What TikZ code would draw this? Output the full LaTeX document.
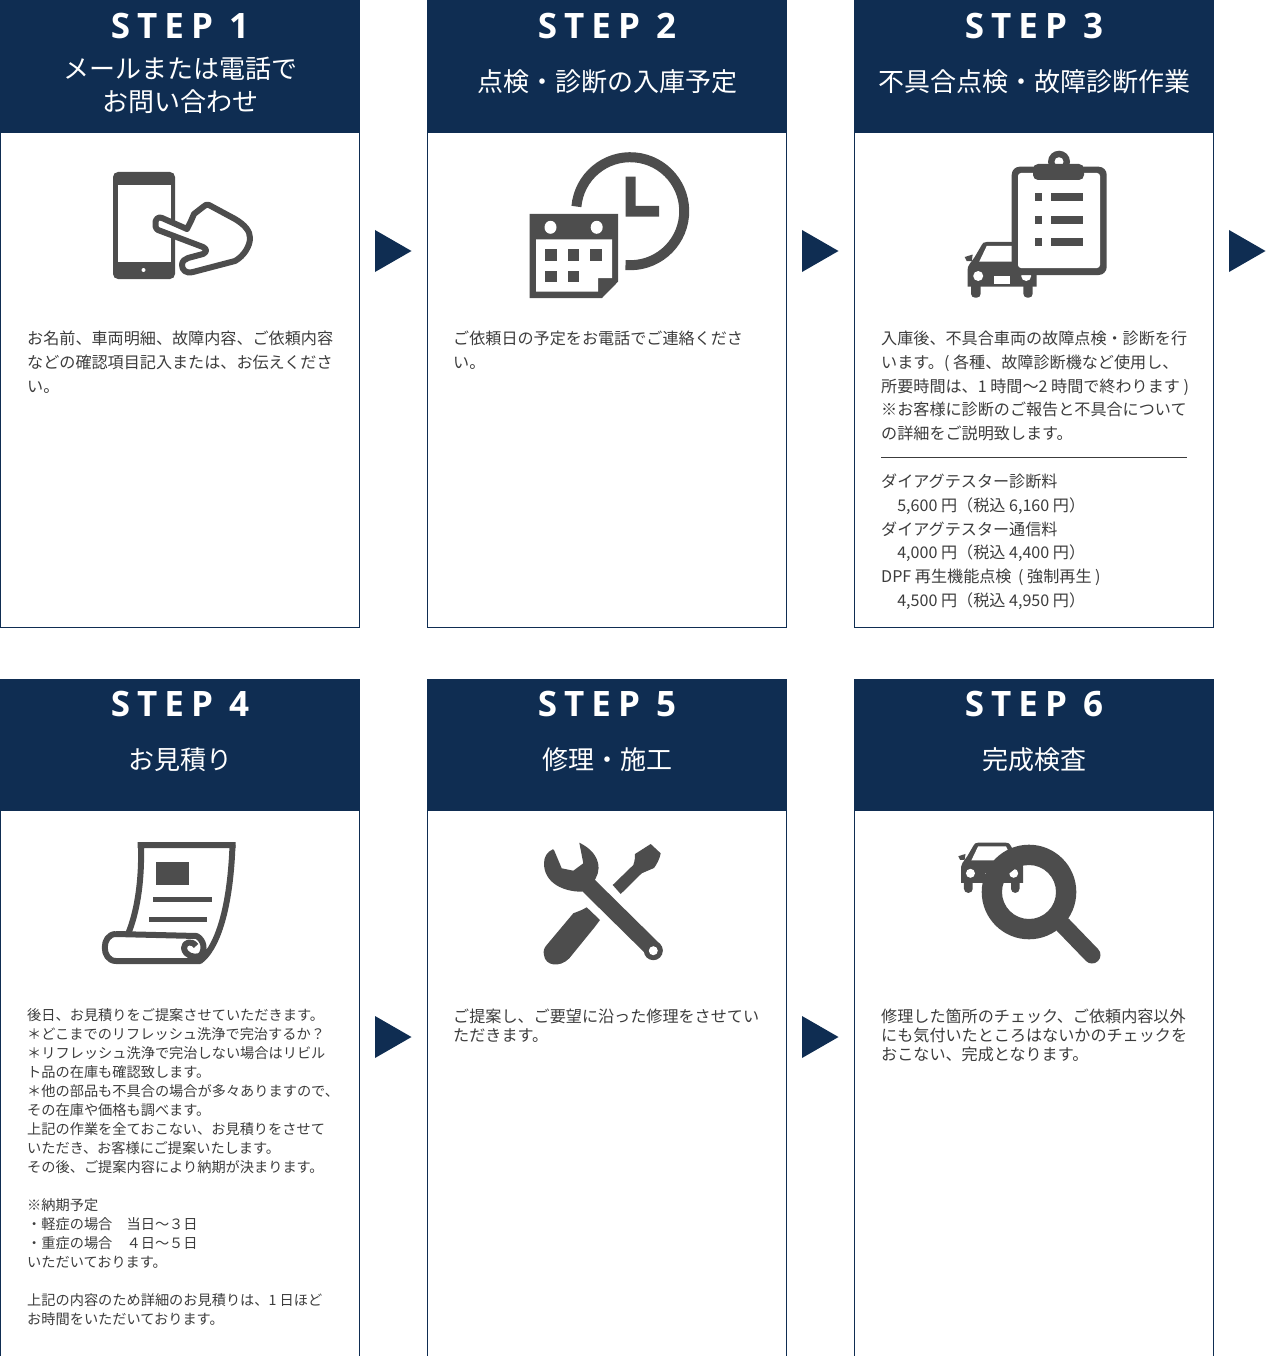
\documentclass[tikz,border=0pt]{standalone}
\usepackage{fontspec}
\setmainfont{Noto Sans CJK JP}
\newfontfamily\stepfont[LetterSpace=20]{Open Sans}
\definecolor{headnavy}{HTML}{0F2D52}
\definecolor{icongray}{HTML}{4D4D4D}
\definecolor{bodygray}{HTML}{3C3C3C}
\tikzset{
  panelline/.style={draw=headnavy,line width=1pt},
  steplabel/.style={text=white,font=\stepfont\bfseries\fontsize{35}{35}\selectfont},
  titlelabel/.style={text=white,align=center,font=\fontsize{26}{33}\selectfont},
  bodytext/.style={anchor=north west,inner sep=0pt,align=left,text=bodygray,font=\fontsize{16.1}{23.7}\selectfont},
  bodyfine/.style={bodytext,font=\fontsize{14.2}{19}\selectfont},
  bodytight/.style={bodytext,font=\fontsize{16.1}{19}\selectfont},
  iconfill/.style={fill=icongray},
  iconline/.style={draw=icongray,line width=6pt},
  pics/carbody/.style={code={
    \fill[iconfill] (-3,15) -- (5,12.5) -- (4,19) -- (-1,19) -- cycle;
    \fill[iconfill] (0,44.7) -- (0,27) .. controls (0,24) and (2,22) .. (7,15) -- (14,3)
      .. controls (15,1) and (16,0) .. (19,0) -- (50,0) .. controls (53,0) and (54,1) .. (55,3)
      -- (62,15) .. controls (67,22) and (69,24) .. (69,27) -- (69,44.7) -- cycle;
    \fill[iconfill,rounded corners=4pt] (3.3,40) rectangle (13,55.7);
    \fill[iconfill,rounded corners=4pt] (55.6,40) rectangle (65,55.7);
    \fill[white] (11.5,19.7) -- (19,4) -- (50,4) -- (57.5,19.7) -- cycle;
    \fill[white] (10.5,34) circle (5);
    \fill[white] (58.5,34) circle (5);
    \fill[white] (26.5,34) rectangle (42,41.5);
  }}
}
\begin{document}
\begin{tikzpicture}[x=1pt,y=1pt,yscale=-1]
\useasboundingbox (0,0) rectangle (1280,1356);
\foreach \px in {0,427,854}{
  \fill[headnavy] (\px,0) rectangle (\px+360,133);
  \draw[panelline] (\px+0.5,0.5) rectangle (\px+359.5,627.5);
  \fill[headnavy] (\px,679) rectangle (\px+360,811);
  \draw[panelline] (\px+0.5,679.5) -- (\px+0.5,1356) (\px+359.5,679.5) -- (\px+359.5,1356);
}
\foreach \px/\py/\num/\ttl in {0/0/1/{メールまたは電話で\\お問い合わせ},427/0/2/{点検・診断の入庫予定},854/0/3/{不具合点検・故障診断作業},0/678/4/{お見積り},427/678/5/{修理・施工},854/678/6/{完成検査}}{
  \node[steplabel] (step\num) at (\px+180,\py+26) {STEP \num};
  \ifnum\num=1
    \node[titlelabel] (title\num) at (\px+180,\py+85) {\ttl};
  \else
    \node[titlelabel] (title\num) at (\px+180,\py+82) {\ttl};
  \fi
}
\foreach \ax/\ay in {375/251,802/251,1229/251,375/1037,802/1037}
  \fill[headnavy] (\ax,\ay-21) -- (\ax+36.5,\ay) -- (\ax,\ay+21) -- cycle;
\node[bodytext] (body1) at (27,331) {お名前、車両明細、故障内容、ご依頼内容\\などの確認項目記入または、お伝えくださ\\い。};
\node[bodytext] (body2) at (453,331) {ご依頼日の予定をお電話でご連絡くださ\\い。};
\node[bodytext] (body3) at (881,331) {入庫後、不具合車両の故障点検・診断を行\\います。( 各種、故障診断機など使用し、\\所要時間は、1 時間～2 時間で終わります )\\※お客様に診断のご報告と不具合について\\の詳細をご説明致します。};
\node[bodytext] (fee3) at (881,474) {ダイアグテスター診断料\\　5,600 円（税込 6,160 円）\\ダイアグテスター通信料\\　4,000 円（税込 4,400 円）\\DPF 再生機能点検\hspace{3pt} ( 強制再生 )\\　4,500 円（税込 4,950 円）};
\coordinate (ruleleft) at (881,457.5);
\coordinate (ruleright) at (1187,457.5);
\draw[bodygray,line width=0.8pt] (ruleleft) -- (ruleright);
\node[bodyfine] (body4) at (27,1008) {後日、お見積りをご提案させていただきます。\\＊どこまでのリフレッシュ洗浄で完治するか？\\＊リフレッシュ洗浄で完治しない場合はリビル\\ト品の在庫も確認致します。\\＊他の部品も不具合の場合が多々ありますので、\\その在庫や価格も調べます。\\上記の作業を全ておこない、お見積りをさせて\\いただき、お客様にご提案いたします。\\その後、ご提案内容により納期が決まります。\\ \\※納期予定\\・軽症の場合　当日～３日\\・重症の場合　４日～５日\\いただいております。\\ \\上記の内容のため詳細のお見積りは、1 日ほど\\お時間をいただいております。};
\node[bodytight] (body5) at (453,1009) {ご提案し、ご要望に沿った修理をさせてい\\ただきます。};
\node[bodytight] (body6) at (881,1009) {修理した箇所のチェック、ご依頼内容以外\\にも気付いたところはないかのチェックを\\おこない、完成となります。};
\fill[iconfill,rounded corners=5pt] (113,172) rectangle (175,279);
\fill[white] (118,185) rectangle (170.5,262);
\fill[white] (143.5,270) circle (2);
\filldraw[iconline,fill=white,line join=round] (162,218) -- (187,229) -- (191,221) -- (194,214) -- (203,207)
  .. controls (205,205) and (207,204) .. (209,205) -- (235,219) .. controls (245,225) and (250,231) .. (250,238)
  .. controls (250,246) and (244,256) .. (235,261) -- (193,272) .. controls (186,274) and (182,270) .. (182,265)
  .. controls (182,261) and (185,259) .. (188,258) -- (203,254) .. controls (207,252) and (207,249) .. (203,247)
  -- (158,230) .. controls (153,227) and (155,215) .. (162,218) -- cycle;
\draw[icongray,line width=10pt] (625.5,265) arc[start angle=95,end angle=-175,radius=54];
\fill[iconfill] (625.6,176.7) -- (635.5,176.7) -- (635.5,206) -- (659,206) -- (659,216.7) -- (625.6,216.7) -- cycle;
\fill[iconfill] (529.5,214) -- (618,214) -- (618,281.7) -- (602,298) -- (529.5,298) -- cycle;
\fill[white] (536,239.3) -- (612,239.3) -- (612,278) -- (598,278) -- (598,291.7) -- (536,291.7) -- cycle;
\foreach \hx in {550.5,596.7}
  \fill[white] (\hx,227.3) ellipse (6 and 6.5);
\foreach \qx/\qy in {545/249.3,567.5/249.3,590/249.3,545/270.7,567.5/270.7}
  \fill[iconfill] (\qx,\qy) rectangle (\qx+11.5,\qy+11.3);
\pic[yscale=-1] at (967.7,242) {carbody};
\fill[iconfill] (1059,161.7) circle (11);
\fill[white] (1059,161.7) circle (4.5);
\fill[iconfill,rounded corners=8pt] (1011.7,166.7) rectangle (1106.7,275);
\fill[white,rounded corners=3pt] (1018,173) rectangle (1100,268);
\fill[iconfill,rounded corners=5pt] (1033,164) rectangle (1084,180);
\foreach \ly in {193.3,216,238.3}{
  \fill[iconfill] (1035,\ly) rectangle (1042.3,\ly+7.7);
  \fill[iconfill] (1051.3,\ly) rectangle (1083.3,\ly+7.7);
}
\draw[iconline,fill=white,line join=round] (116,934) -- (196.7,936) .. controls (204,940) and (206,950) .. (200,956)
  .. controls (194,958) and (185,956) .. (184,948) .. controls (184,942) and (192,940) .. (196,946) (116,934)
  .. controls (101,934) and (101,961) .. (116,961) -- (200,961) .. controls (215,950) and (230,915) .. (232.5,845);
\draw[iconline] (137.7,845) -- (235.5,845) (141,846) .. controls (142,885) and (136,915) .. (128,934);
\fill[iconfill] (156,862) rectangle (189.3,885);
\fill[iconfill] (153.3,897.3) rectangle (212,902.3);
\fill[iconfill] (148.7,916.7) rectangle (207.3,921.7);
\fill[iconfill] (552.7,849.3) -- (554,850) -- (561.7,868.3) -- (573.3,870.7) -- (583.3,863.3) -- (579.3,842.7)
  .. controls (601,853) and (603,872) .. (592,883.3) -- (581.7,891.7)
  .. controls (563.3,891.7) and (544,883) .. (544,863.3) .. controls (544,857) and (547,852) .. (552.7,849.3) -- cycle;
\draw[icongray,line width=17pt,line cap=round] (587,884) -- (654,950);
\fill[iconfill] (653.3,950.7) circle (9.5);
\fill[white] (653.3,950.7) circle (4.5);
\fill[iconfill] (612.7,885) -- (633.3,865) .. controls (635,860) and (635,857) .. (635,854) -- (650.7,844) -- (660.7,853.3)
  .. controls (660,858) and (657,864) .. (654,868) -- (641.7,873.3) -- (620.7,894) -- cycle;
\fill[iconfill] (586.7,907.3) -- (600,920) -- (595,926.7) -- (569.3,958.3) .. controls (560,968) and (545,966) .. (544,955)
  .. controls (543,951) and (544,948) .. (546.7,945) -- (573.3,913.3) -- (581.7,910) -- cycle;
\pic[xscale=0.9,yscale=-0.9] at (961,842.7) {carbody};
\fill[iconfill,even odd rule] (1029,892) circle (47.3) (1029,892) circle (27);
\draw[icongray,line width=17pt,line cap=round] (1063,925) -- (1092,955);
\end{tikzpicture}
\end{document}
